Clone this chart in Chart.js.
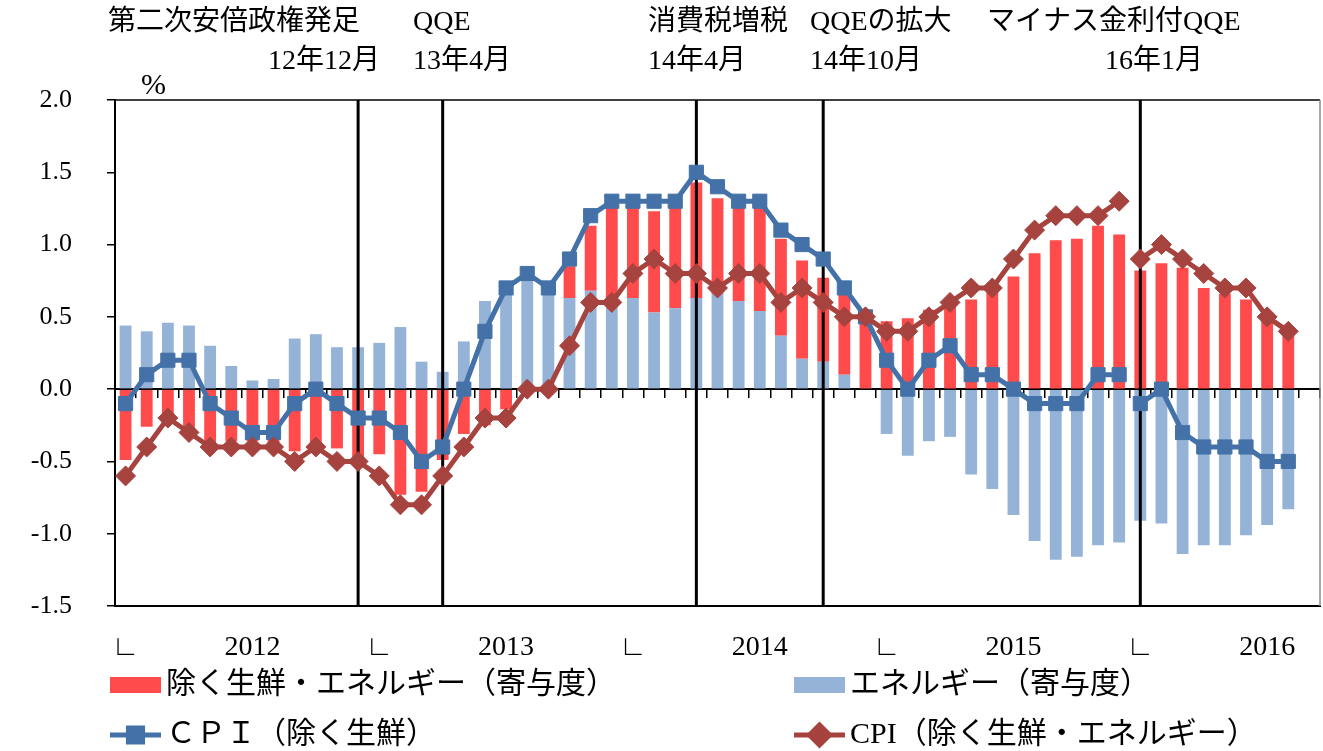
<!DOCTYPE html>
<html lang="ja">
<head>
<meta charset="utf-8">
<title>消費者物価指数の推移</title>
<script src="https://cdn.jsdelivr.net/npm/chart.js@4.4.1/dist/chart.umd.min.js"></script>
<style>
  html, body { margin: 0; padding: 0; background: #fff; }
  #wrap { width: 1323px; height: 751px; }
</style>
</head>
<body>
<div id="wrap"><canvas id="cpiChart" width="1323" height="751"></canvas></div>
<script>
// months Jan 2012 - Sep 2016 (last category left empty, as in the source)
const months = [
    '12/1','12/2','12/3','12/4','12/5','12/6','12/7','12/8','12/9','12/10','12/11','12/12',
    '13/1','13/2','13/3','13/4','13/5','13/6','13/7','13/8','13/9','13/10','13/11','13/12',
    '14/1','14/2','14/3','14/4','14/5','14/6','14/7','14/8','14/9','14/10','14/11','14/12',
    '15/1','15/2','15/3','15/4','15/5','15/6','15/7','15/8','15/9','15/10','15/11','15/12',
    '16/1','16/2','16/3','16/4','16/5','16/6','16/7','16/8','16/9'
];

// contribution of energy (pp)
const energyContrib = [
    0.44, 0.40, 0.46, 0.44, 0.30, 0.16, 0.06, 0.07, 0.35, 0.38, 0.29, 0.29,
    0.32, 0.43, 0.19, 0.12, 0.33, 0.61, 0.70, 0.75, 0.66, 0.63, 0.68, 0.63,
    0.63, 0.53, 0.56, 0.63, 0.66, 0.61, 0.54, 0.37, 0.21, 0.19, 0.10, 0.00,
    -0.31, -0.46, -0.36, -0.33, -0.59, -0.69, -0.87, -1.05, -1.18, -1.16, -1.08, -1.06,
    -0.91, -0.93, -1.14, -1.08, -1.08, -1.01, -0.94, -0.83
];

// contribution of items excluding fresh food and energy (pp)
const coreContrib = [
    -0.49, -0.26, -0.24, -0.30, -0.38, -0.36, -0.36, -0.37, -0.43, -0.39, -0.41, -0.47,
    -0.45, -0.73, -0.71, -0.49, -0.31, -0.25, -0.14, 0.03, 0.03, 0.22, 0.45, 0.64,
    0.64, 0.70, 0.70, 0.80, 0.66, 0.65, 0.72, 0.67, 0.68, 0.58, 0.56, 0.47,
    0.47, 0.49, 0.55, 0.60, 0.62, 0.70, 0.78, 0.94, 1.03, 1.04, 1.13, 1.07,
    0.82, 0.87, 0.84, 0.70, 0.66, 0.62, 0.52, 0.40
];

// CPI excluding fresh food, y/y %
const cpiExFresh = [
    -0.1, 0.1, 0.2, 0.2, -0.1, -0.2, -0.3, -0.3, -0.1, 0.0, -0.1, -0.2,
    -0.2, -0.3, -0.5, -0.4, 0.0, 0.4, 0.7, 0.8, 0.7, 0.9, 1.2, 1.3,
    1.3, 1.3, 1.3, 1.5, 1.4, 1.3, 1.3, 1.1, 1.0, 0.9, 0.7, 0.5,
    0.2, 0.0, 0.2, 0.3, 0.1, 0.1, 0.0, -0.1, -0.1, -0.1, 0.1, 0.1,
    -0.1, 0.0, -0.3, -0.4, -0.4, -0.4, -0.5, -0.5
];

// CPI excluding fresh food and energy, y/y %
const cpiExFreshEnergy = [
    -0.6, -0.4, -0.2, -0.3, -0.4, -0.4, -0.4, -0.4, -0.5, -0.4, -0.5, -0.5,
    -0.6, -0.8, -0.8, -0.6, -0.4, -0.2, -0.2, 0.0, 0.0, 0.3, 0.6, 0.6,
    0.8, 0.9, 0.8, 0.8, 0.7, 0.8, 0.8, 0.6, 0.7, 0.6, 0.5, 0.5,
    0.4, 0.4, 0.5, 0.6, 0.7, 0.7, 0.9, 1.1, 1.2, 1.2, 1.2, 1.3,
    0.9, 1.0, 0.9, 0.8, 0.7, 0.7, 0.5, 0.4
];

// x tick labels: a mark at each January, the year in July
const yearMark = '∟';
const yearLabels = ['2012', '2013', '2014', '2015', '2016'];
const yTicks = [-1.5, -1.0, -0.5, 0.0, 0.5, 1.0, 1.5, 2.0];

// policy events (vertical lines) and the notes above the plot
const eventMonths = ['12/12', '13/4', '14/4', '14/10', '16/1'];
const eventTitles = ['第二次安倍政権発足', 'QQE', '消費税増税', 'QQEの拡大', 'マイナス金利付QQE'];
const eventDates = ['12年12月', '13年4月', '14年4月', '14年10月', '16年1月'];
const unitLabel = '%';

// the lines break where the CPI base year changes
const baseChangeMonth = '16/1';

const FONT = "'Liberation Serif', 'Noto Sans CJK JP', 'DejaVu Sans', serif";
Chart.defaults.font.family = FONT;
Chart.defaults.color = '#000';

const RED_BAR = '#FF4B4B';
const BLUE_BAR = '#95B3D7';
const BLUE_LINE = '#4472A8';
const RED_LINE = '#A6433F';

const breakIndex = months.indexOf(baseChangeMonth);
const gapSegment = {
    borderColor: ctx => ctx.p1DataIndex === breakIndex ? 'rgba(0,0,0,0)' : undefined
};

// vertical event lines go between the bars and the lines
const eventLines = {
    id: 'eventLines',
    beforeDatasetsDraw(chart) {
        chart.$eventLinesDone = false;
    },
    beforeDatasetDraw(chart, args) {
        if (chart.$eventLinesDone || args.meta.type !== 'line') return;
        chart.$eventLinesDone = true;
        const { ctx, chartArea, scales } = chart;
        ctx.save();
        ctx.strokeStyle = '#000';
        ctx.lineWidth = 3;
        eventMonths.forEach(m => {
            const x = scales.x.getPixelForValue(months.indexOf(m));
            ctx.beginPath();
            ctx.moveTo(x, chartArea.top);
            ctx.lineTo(x, chartArea.bottom);
            ctx.stroke();
        });
        ctx.restore();
    }
};

// frame, notes above the plot and the legend underneath
const extras = {
    id: 'extras',
    afterDraw(chart) {
        const { ctx, chartArea } = chart;
        ctx.save();

        // top and right frame
        ctx.lineWidth = 1.5;
        ctx.strokeStyle = '#000';
        ctx.beginPath();
        ctx.moveTo(chartArea.left, chartArea.top);
        ctx.lineTo(chartArea.right, chartArea.top);
        ctx.stroke();
        ctx.strokeStyle = '#8c8c8c';
        ctx.beginPath();
        ctx.moveTo(chartArea.right, chartArea.top);
        ctx.lineTo(chartArea.right, chartArea.bottom);
        ctx.stroke();

        // event notes
        ctx.fillStyle = '#000';
        ctx.textBaseline = 'middle';
        ctx.font = '28px ' + FONT;
        const titleX = [108, 413, 648, 810, 987];
        const dateX = [380, 413, 648, 810, 1105];
        eventTitles.forEach((t, i) => {
            ctx.textAlign = 'left';
            ctx.fillText(t, titleX[i], 23);
            ctx.textAlign = i === 0 ? 'right' : 'left';
            ctx.fillText(eventDates[i], dateX[i], 62);
        });
        ctx.textAlign = 'left';
        ctx.font = '30px ' + FONT;
        ctx.fillText(unitLabel, 141, 86);

        // legend, two columns
        const ds = chart.data.datasets;
        const slots = [
            { d: ds[1], x: 110, y: 685 },
            { d: ds[0], x: 794, y: 685 },
            { d: ds[2], x: 110, y: 735 },
            { d: ds[3], x: 794, y: 735 }
        ];
        ctx.font = '30px ' + FONT;
        slots.forEach(s => {
            const d = s.d;
            if (d.type === 'bar') {
                ctx.fillStyle = d.backgroundColor;
                ctx.fillRect(s.x, s.y - 8, 51, 16);
            } else {
                ctx.strokeStyle = d.borderColor;
                ctx.lineWidth = 5;
                ctx.beginPath();
                ctx.moveTo(s.x, s.y);
                ctx.lineTo(s.x + 51, s.y);
                ctx.stroke();
                Chart.helpers.drawPoint(ctx, {
                    pointStyle: d.pointStyle,
                    radius: d.pointRadius,
                    borderWidth: 1
                }, s.x + 25.5, s.y);
                ctx.fillStyle = d.pointBackgroundColor;
                ctx.fill();
            }
            ctx.fillStyle = '#000';
            ctx.textAlign = 'left';
            ctx.textBaseline = 'middle';
            ctx.fillText(d.label, s.x + 56, s.y);
        });
        ctx.restore();
    }
};

const ctx = document.getElementById('cpiChart').getContext('2d');

new Chart(ctx, {
    data: {
        labels: months,
        datasets: [
            {
                type: 'bar',
                label: 'エネルギー（寄与度）',
                data: energyContrib,
                backgroundColor: BLUE_BAR,
                stack: 'contrib',
                order: 2,
                categoryPercentage: 1,
                barPercentage: 0.56
            },
            {
                type: 'bar',
                label: '除く生鮮・エネルギー（寄与度）',
                data: coreContrib,
                backgroundColor: RED_BAR,
                stack: 'contrib',
                order: 2,
                categoryPercentage: 1,
                barPercentage: 0.56
            },
            {
                type: 'line',
                label: 'ＣＰＩ（除く生鮮）',
                data: cpiExFresh,
                stack: 'cpi',
                order: 1,
                borderColor: BLUE_LINE,
                borderWidth: 5,
                pointStyle: 'rect',
                pointRadius: 10,
                pointBackgroundColor: BLUE_LINE,
                pointBorderColor: BLUE_LINE,
                pointBorderWidth: 1,
                segment: gapSegment
            },
            {
                type: 'line',
                label: 'CPI（除く生鮮・エネルギー）',
                data: cpiExFreshEnergy,
                stack: 'core',
                order: 0,
                borderColor: RED_LINE,
                borderWidth: 5,
                pointStyle: 'rectRot',
                pointRadius: 10,
                pointBackgroundColor: RED_LINE,
                pointBorderColor: RED_LINE,
                pointBorderWidth: 1,
                segment: gapSegment
            }
        ]
    },
    options: {
        responsive: false,
        animation: false,
        devicePixelRatio: 1,
        layout: {
            autoPadding: false,
            padding: { top: 100, right: 3, bottom: 90, left: 0 }
        },
        plugins: {
            legend: { display: false },
            tooltip: { enabled: false }
        },
        scales: {
            x: {
                offset: true,
                grid: { display: false },
                border: { display: true, color: '#000', width: 2 },
                ticks: {
                    autoSkip: false,
                    maxRotation: 0,
                    padding: 0,
                    font: { size: 28, lineHeight: 2.4 },
                    callback: (v, i) => {
                        if (i % 12 === 0) return yearMark;
                        if (i % 12 === 6) return yearLabels[Math.floor(i / 12)];
                        return '';
                    }
                },
                afterFit: s => { s.height = 55; }
            },
            xZero: {
                type: 'category',
                position: { y: 0 },
                offset: true,
                grid: {
                    display: true,
                    drawOnChartArea: false,
                    drawTicks: true,
                    tickLength: 8,
                    offset: true,
                    color: '#000',
                    lineWidth: 1.5
                },
                border: { display: true, color: '#000', width: 2 },
                ticks: { display: false, padding: 0 }
            },
            y: {
                stacked: true,
                min: yTicks[0],
                max: yTicks[yTicks.length - 1],
                afterBuildTicks: s => { s.ticks = yTicks.map(v => ({ value: v })); },
                ticks: {
                    padding: 35,
                    font: { size: 26 },
                    callback: v => v.toFixed(1)
                },
                grid: {
                    drawOnChartArea: false,
                    drawTicks: true,
                    tickLength: 8,
                    color: '#000',
                    lineWidth: 1.5
                },
                border: { color: '#000', width: 2 },
                afterFit: s => { s.width = 115; }
            }
        }
    },
    plugins: [eventLines, extras]
});
</script>
</body>
</html>
